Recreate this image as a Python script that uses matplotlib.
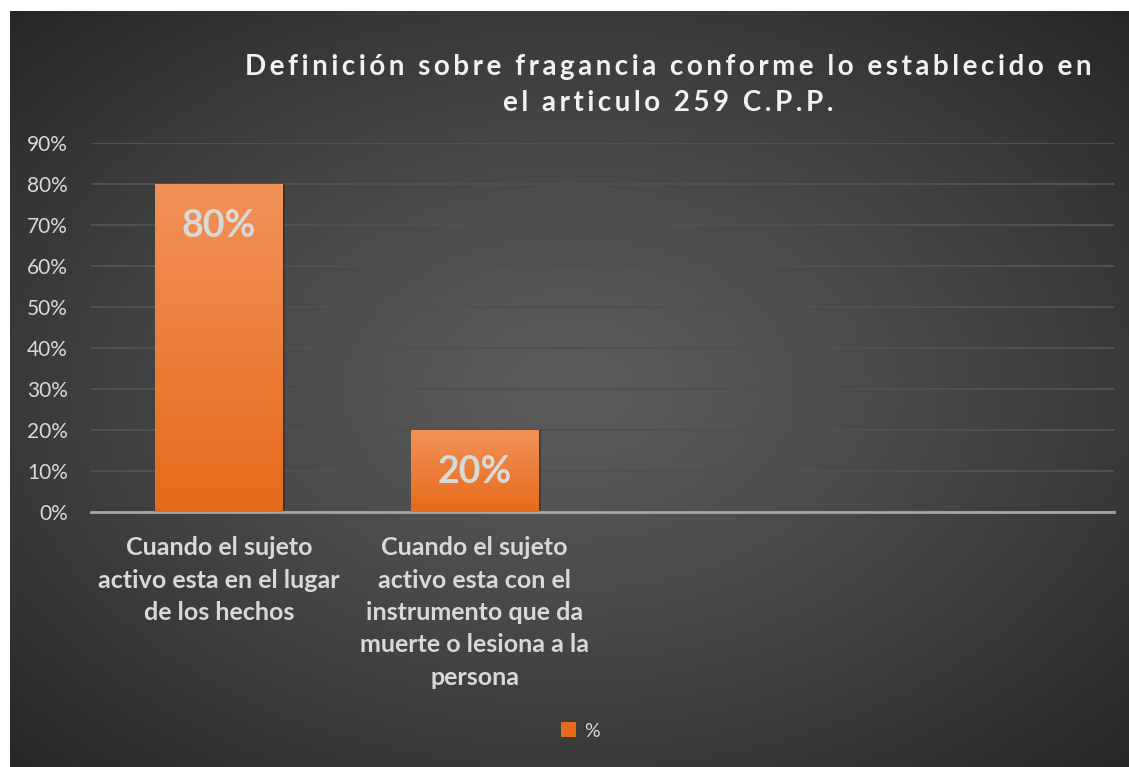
import numpy as np
import matplotlib.pyplot as plt
from matplotlib.patches import Rectangle

categories = ['Cuando el sujeto\nactivo esta en el lugar\nde los hechos',
              'Cuando el sujeto\nactivo esta con el\ninstrumento que da\nmuerte o lesiona a la\npersona',
              '', '']
values = [0.80, 0.20, None, None]
yticks = [0, 0.1, 0.2, 0.3, 0.4, 0.5, 0.6, 0.7, 0.8, 0.9]
series_name = '%'
title = 'Definición sobre fragancia conforme lo establecido en\nel articulo 259 C.P.P.'

plt.rcParams['font.family'] = ['Lato', 'DejaVu Sans']
txt = '#d9d9d9'

fig = plt.figure(figsize=(11.29, 7.67), dpi=100)
fig.patch.set_facecolor('white')

# dark radial background
bg = fig.add_axes([10 / 1129, 0, 1119 / 1129, 756 / 767])
yy, xx = np.mgrid[-1:1:300j, -1:1:440j]
r = np.sqrt(xx ** 2 + yy ** 2) / np.sqrt(2)
g = 0.36 - 0.21 * np.clip(r, 0, 1) ** 1.2
bg.imshow(np.dstack([g, g, g]), aspect='auto', extent=[0, 1, 0, 1])
bg.set_axis_off()

ax = fig.add_axes([91 / 1129, 1 - 512 / 767, 1023 / 1129, 369 / 767])
ax.set_facecolor('none')
x = np.arange(len(categories))

grad = np.linspace(0, 1, 100).reshape(-1, 1)
top = np.array([0.945, 0.57, 0.35])
bot = np.array([0.905, 0.42, 0.10])
for xi, v in zip(x, values):
    if v is None:
        continue
    # soft shadow
    ax.add_patch(Rectangle((xi - 0.25 + 0.01, 0), 0.5, v, facecolor='black',
                           alpha=0.25, lw=0, zorder=2))
    bar = ax.bar(xi, v, width=0.5, color=bot, zorder=3)[0]
    img = top * (1 - grad) + bot * grad
    im = ax.imshow(img.reshape(100, 1, 3), extent=[xi - 0.25, xi + 0.25, 0, v],
                   aspect='auto', zorder=3.5)
    im.set_clip_path(bar)
    ax.annotate(f'{v:.0%}', (xi, v), xytext=(0, -30), textcoords='offset points',
                ha='center', va='center', color=txt, fontsize=27,
                fontweight='bold', zorder=5)
ax.set_xlim(-0.5, len(categories) - 0.5)
ax.set_ylim(0, 0.9)

ax.set_yticks(yticks)
ax.set_yticklabels([f'{t:.0%}' for t in yticks], color=txt, fontsize=15)
ax.yaxis.grid(True, color='#505050', lw=1.5, zorder=0)
ax.set_axisbelow(True)
ax.tick_params(axis='y', length=0, pad=16.5)
ax.set_xticks(x)
ax.set_xticklabels(categories, color=txt, fontsize=18, fontweight='bold',
                   linespacing=1.49, va='top')
ax.tick_params(axis='x', length=0, pad=17.5)
for s in ['top', 'right', 'left']:
    ax.spines[s].set_visible(False)
ax.spines['bottom'].set_color('#a6a6a6')
ax.spines['bottom'].set_linewidth(2)

# spaced-out title
gap = '\u200a\u200a'
spaced = '\n'.join(gap.join(line) for line in title.split('\n'))
fig.text(668 / 1129, 1 - 85 / 767, spaced, ha='center', va='center',
         color='#f2f2f2', fontsize=20, fontweight='bold', linespacing=1.45)

h = Rectangle((0, 0), 1, 1, facecolor=bot)
leg = fig.legend([h], [series_name], loc='center', bbox_to_anchor=(580 / 1129, 1 - 731 / 767),
                 frameon=False, fontsize=14, handlelength=0.8, handleheight=0.8,
                 handletextpad=0.4)
for t in leg.get_texts():
    t.set_color(txt)

fig.savefig('out.png', dpi=100)
